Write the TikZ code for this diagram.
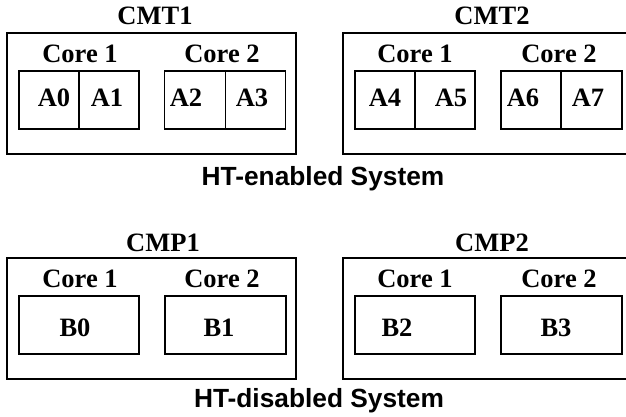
\documentclass[tikz,border=0pt]{standalone}
\usepackage{fontspec}
\setmainfont{Liberation Serif}
\newfontfamily\htsans{Liberation Sans}
\begin{document}
\begin{tikzpicture}[x=1pt,y=-1pt,
  box/.style={draw, line width=1.8pt, inner sep=0pt, minimum width=#1},
  outerbox/.style={box=289pt, minimum height=121pt},
  cell/.style={box=60pt, minimum height=58pt},
  corebox/.style={box=120pt, minimum height=58pt},
  lbl/.style={anchor=base, inner sep=0pt, font=\fontsize{26.5}{28}\selectfont\bfseries},
  sys/.style={anchor=base, inner sep=0pt, font=\htsans\fontsize{26.3}{28}\selectfont\bfseries}]
\clip (0,0) rectangle (626,417);
\fill[white] (0,0) rectangle (626,417);
% ---------- HT-enabled ----------
\node[outerbox] (cmt1) at (151.5,93.5) {};
\node[outerbox, minimum width=286pt] (cmt2) at (486,93.5) {};
\node[lbl] (cmt1t) at (155,25) {CMT1};
\node[lbl] (cmt2t) at (492,25) {CMT2};
\node[lbl] (c11) at (80,63) {Core 1};
\node[lbl] (c12) at (222,63) {Core 2};
\node[lbl] (c21) at (415,63) {Core 1};
\node[lbl] (c22) at (559,63) {Core 2};
\node[cell] (a0b) at (49,100) {};
\node[cell] (a1b) at (109,100) {};
\node[cell, minimum width=61pt] (a2b) at (195,100) {};
\node[cell] (a3b) at (255.5,100) {};
\node[cell] (a4b) at (385,100) {};
\node[cell] (a5b) at (445,100) {};
\node[cell] (a6b) at (531,100) {};
\node[cell, minimum width=61pt] (a7b) at (591.5,100) {};
\node[lbl] (a0) at (54,107) {A0};
\node[lbl] (a1) at (107,107) {A1};
\node[lbl] (a2) at (186,107) {A2};
\node[lbl] (a3) at (252,107) {A3};
\node[lbl] (a4) at (385,107) {A4};
\node[lbl] (a5) at (451,107) {A5};
\node[lbl] (a6) at (523,107) {A6};
\node[lbl] (a7) at (588,107) {A7};
\node[sys] (hte) at (323,185) {HT-enabled System};
% ---------- HT-disabled ----------
\node[outerbox] (cmp1) at (151.5,318.5) {};
\node[outerbox, minimum width=286pt] (cmp2) at (486,318.5) {};
\node[lbl] (cmp1t) at (163,251) {CMP1};
\node[lbl] (cmp2t) at (492,251) {CMP2};
\node[lbl] (d11) at (80,287) {Core 1};
\node[lbl] (d12) at (222,287) {Core 2};
\node[lbl] (d21) at (415,287) {Core 1};
\node[lbl] (d22) at (559,287) {Core 2};
\node[corebox] (b0b) at (79,325) {};
\node[corebox, minimum width=121pt] (b1b) at (225.5,325) {};
\node[corebox] (b2b) at (415,325) {};
\node[corebox, minimum width=121pt] (b3b) at (561.5,325) {};
\node[lbl] (b0) at (75,336) {B0};
\node[lbl] (b1) at (219,336) {B1};
\node[lbl] (b2) at (397,336) {B2};
\node[lbl] (b3) at (556,336) {B3};
\node[sys] (htd) at (319,407) {HT-disabled System};
\end{tikzpicture}
\end{document}
